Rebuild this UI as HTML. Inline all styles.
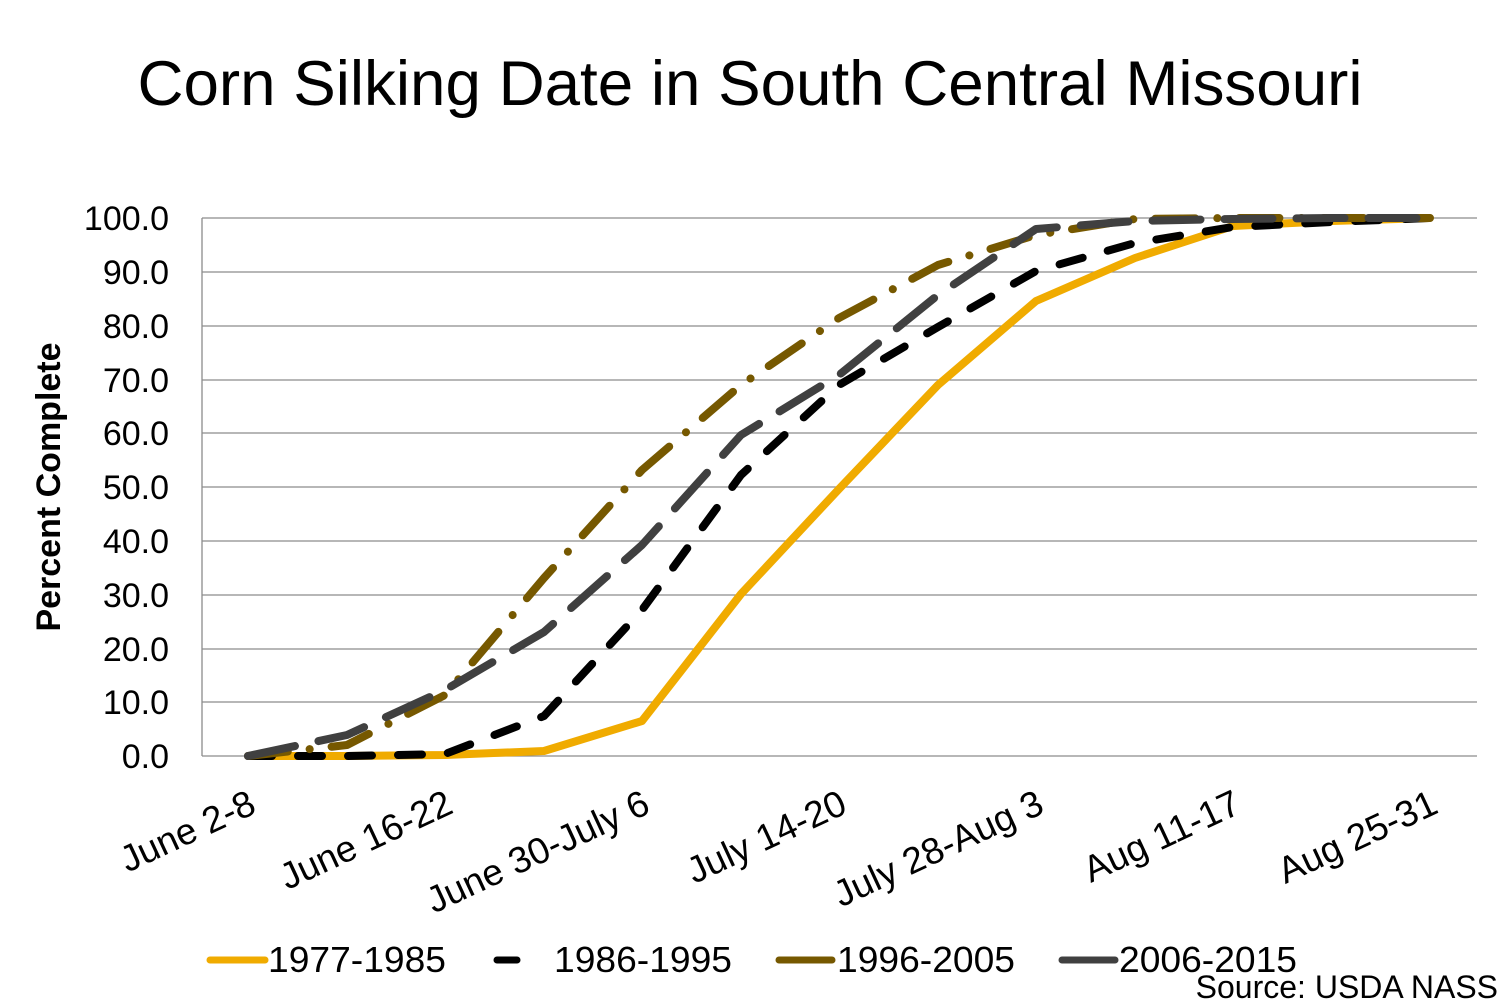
<!DOCTYPE html>
<html><head><meta charset="utf-8"><style>
body{margin:0;background:#fff;}
svg{display:block;font-family:"Liberation Sans",Arial,sans-serif;}
</style></head><body>
<svg width="1500" height="1000" viewBox="0 0 1500 1000">
<text x="750" y="105" text-anchor="middle" font-size="63" fill="#000" textLength="1225" lengthAdjust="spacingAndGlyphs">Corn Silking Date in South Central Missouri</text>
<g stroke="#8c8c8c" stroke-width="1.3">
<line x1="202" y1="218" x2="1477" y2="218"/>
<line x1="202" y1="272" x2="1477" y2="272"/>
<line x1="202" y1="326" x2="1477" y2="326"/>
<line x1="202" y1="380" x2="1477" y2="380"/>
<line x1="202" y1="433" x2="1477" y2="433"/>
<line x1="202" y1="487" x2="1477" y2="487"/>
<line x1="202" y1="541" x2="1477" y2="541"/>
<line x1="202" y1="595" x2="1477" y2="595"/>
<line x1="202" y1="649" x2="1477" y2="649"/>
<line x1="202" y1="702" x2="1477" y2="702"/>
<line x1="202" y1="756" x2="1477" y2="756"/>
<line x1="202" y1="218" x2="202" y2="756"/>
</g>
<g font-size="34" text-anchor="end" fill="#000">
<text x="169" y="230">100.0</text><text x="169" y="284">90.0</text><text x="169" y="338">80.0</text>
<text x="169" y="392">70.0</text><text x="169" y="445">60.0</text><text x="169" y="499">50.0</text>
<text x="169" y="553">40.0</text><text x="169" y="607">30.0</text><text x="169" y="661">20.0</text>
<text x="169" y="714">10.0</text><text x="169" y="768">0.0</text>
</g>
<text transform="translate(60,487) rotate(-90)" text-anchor="middle" font-size="34" font-weight="bold">Percent Complete</text>
<g font-size="37" text-anchor="end" fill="#000">
<text transform="translate(258,812) rotate(-25)">June 2-8</text>
<text transform="translate(455,812) rotate(-25)">June 16-22</text>
<text transform="translate(652,812) rotate(-25)">June 30-July 6</text>
<text transform="translate(849,812) rotate(-25)">July 14-20</text>
<text transform="translate(1046,812) rotate(-25)">July 28-Aug 3</text>
<text transform="translate(1243,812) rotate(-25)">Aug 11-17</text>
<text transform="translate(1440,812) rotate(-25)">Aug 25-31</text>
</g>
<g fill="none" stroke-width="8" stroke-linejoin="round">
<polyline stroke="#F0AB00" points="248,756 347,756 445,755 544,751 642,721 741,594 839,489 938,385 1036,301 1135,258 1233,226 1332,221 1430,218"/>
<polyline stroke="#000" stroke-linecap="round" stroke-dasharray="24 26" points="248,756 347,756 445,754 544,716 642,610 741,475 839,385 938,327 1036,271 1135,243 1233,227 1332,222 1430,218"/>
<polyline stroke="#765800" stroke-linecap="round" stroke-dasharray="40 22 0.1 22" points="248,756 347,745 445,695 544,578 642,470 741,385 839,318 938,265 1036,235 1135,219 1233,218 1332,218 1430,218"/>
<polyline stroke="#404040" stroke-linecap="round" stroke-dasharray="48 24" points="248,756 347,735 445,690 544,632 642,545 741,435 839,375 938,295 1036,229 1135,221 1233,219 1332,218 1430,218"/>
</g>
<g stroke-width="7" stroke-linecap="round">
<line x1="210" y1="960" x2="265" y2="960" stroke="#F0AB00"/>
<line x1="497" y1="960" x2="517" y2="960" stroke="#000"/>
<line x1="779" y1="960" x2="832" y2="960" stroke="#765800"/>
<line x1="1062" y1="960" x2="1115" y2="960" stroke="#404040"/>
</g>
<g font-size="36" fill="#000">
<text x="268" y="972" textLength="178" lengthAdjust="spacingAndGlyphs">1977-1985</text>
<text x="554" y="972" textLength="178" lengthAdjust="spacingAndGlyphs">1986-1995</text>
<text x="837" y="972" textLength="178" lengthAdjust="spacingAndGlyphs">1996-2005</text>
<text x="1119" y="972" textLength="178" lengthAdjust="spacingAndGlyphs">2006-2015</text>
<text x="1498" y="998" text-anchor="end" font-size="32">Source: USDA NASS</text>
</g>
</svg>
</body></html>
